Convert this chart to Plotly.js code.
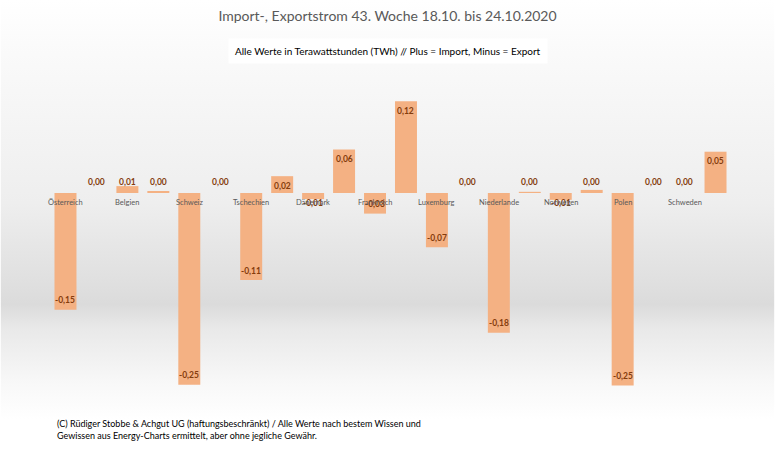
<!DOCTYPE html>
<html>
<head>
<meta charset="utf-8">
<script src="https://cdn.plot.ly/plotly-3.0.1.min.js"></script>
<style>html,body{margin:0;padding:0;background:#fff;}#chart{width:775px;height:451px;}</style>
</head>
<body>
<div id="chart"></div>
<script>
// Country labels (each country owns two adjacent bars; the label sits under the first)
const countries = ['Österreich','Belgien','Schweiz','Tschechien','Dänemark','Frankreich','Luxemburg','Niederlande','Norwegen','Polen','Schweden'];
// Bar values in TWh (22 bars, two per country)
const values = [-0.153, 0, 0.009, 0.0026, -0.251, 0, -0.114, 0.022, -0.008, 0.057, -0.027, 0.120, -0.071, 0, -0.183, 0.0015, -0.009, 0.004, -0.252, 0, 0, 0.054];

const titleText = 'Import-, Exportstrom 43. Woche 18.10. bis 24.10.2020';
const subtitleText = 'Alle Werte in Terawattstunden (TWh) // Plus = Import, Minus = Export';
const footerText = '(C) Rüdiger Stobbe &amp; Achgut UG (haftungsbeschränkt) / Alle Werte nach bestem Wissen und<br>Gewissen aus Energy-Charts ermittelt, aber ohne jegliche Gewähr.';

const W = 775, H = 451;
const margin = {l: 49.5, r: 43.5, t: 90, b: 51};
const yRange = [-0.271, 0.1348];
const plotW = W - margin.l - margin.r, plotH = H - margin.t - margin.b;
const pxPerUnit = plotH / (yRange[1] - yRange[0]);

const xs = values.map((v, i) => i);
const fmt = v => v.toFixed(2).replace('.', ',');

const font = 'Lato, "Open Sans", sans-serif';

const annotations = [];
// value labels
values.forEach((v, i) => {
  const px = Math.abs(v) * pxPerUnit;
  let a = {x: i, xref: 'x', yref: 'y', text: '<b>' + fmt(v) + '</b>', showarrow: false,
           font: {family: font, size: 8.5, color: '#843C0C'}};
  if (v > 0 && px >= 12) { a.y = v; a.yanchor = 'top'; a.yshift = -2.5; }
  else if (v >= 0) { a.y = 0; a.yanchor = 'bottom'; a.yshift = 3.5; }
  else if (px >= 12) { a.y = v; a.yanchor = 'bottom'; a.yshift = 2.5; }
  else { a.y = 0; a.yanchor = 'top'; a.yshift = -3.5; }
  annotations.push(a);
});
// category labels at the zero line
countries.forEach((c, k) => {
  annotations.push({x: 2 * k, xref: 'x', y: 0, yref: 'y', yanchor: 'middle', yshift: -10,
    text: c, showarrow: false, font: {family: font, size: 7.5, color: '#595959'}});
});
// subtitle
annotations.push({xref: 'paper', yref: 'paper', x: (388 - margin.l) / plotW, y: 1 + (margin.t - 51) / plotH,
  xanchor: 'center', yanchor: 'middle', text: subtitleText, showarrow: false,
  bgcolor: '#ffffff', borderpad: 6,
  font: {family: font, size: 10, color: '#000000'}});
// footer
annotations.push({xref: 'paper', yref: 'paper', x: (55 - margin.l) / plotW, y: -(429 - (H - margin.b)) / plotH,
  xanchor: 'left', yanchor: 'middle', align: 'left', text: footerText, showarrow: false,
  font: {family: font, size: 9, color: '#000000'}});

const bg = 'data:image/svg+xml;charset=utf-8,' + encodeURIComponent(
  '<svg xmlns="http://www.w3.org/2000/svg" width="775" height="451" preserveAspectRatio="none">' +
  '<defs><linearGradient id="g" x1="0" y1="0" x2="0" y2="1">' +
  '<stop offset="0" stop-color="#ffffff"/>' +
  '<stop offset="0.12" stop-color="#fafafa"/>' +
  '<stop offset="0.45" stop-color="#eeeeee"/>' +
  '<stop offset="0.62" stop-color="#e0e0e0"/>' +
  '<stop offset="0.675" stop-color="#dbdbdb"/>' +
  '<stop offset="0.73" stop-color="#e9e9e9"/>' +
  '<stop offset="0.85" stop-color="#f8f8f8"/>' +
  '<stop offset="0.93" stop-color="#ffffff"/>' +
  '<stop offset="1" stop-color="#ffffff"/>' +
  '</linearGradient></defs><rect width="775" height="451" fill="url(#g)"/></svg>');

const trace = {
  type: 'bar', x: xs, y: values,
  marker: {color: '#F4B183', line: {width: 0}},
  hoverinfo: 'none'
};

const layout = {
  width: W, height: H,
  margin: margin,
  paper_bgcolor: '#ffffff', plot_bgcolor: 'rgba(0,0,0,0)',
  showlegend: false,
  bargap: 0.29,
  title: {text: titleText, x: 0.5, xanchor: 'center', y: 1 - 16 / H, yanchor: 'middle', yref: 'container',
          font: {family: font, size: 14, color: '#595959'}},
  xaxis: {range: [-0.5, values.length - 0.5], showticklabels: false, showgrid: false, zeroline: false, showline: false, ticks: ''},
  yaxis: {range: yRange, showticklabels: false, showgrid: false, zeroline: false, showline: false, ticks: ''},
  annotations: annotations,
  images: [{source: bg, xref: 'paper', yref: 'paper', x: -margin.l / plotW, y: 1 + margin.t / plotH,
            sizex: W / plotW, sizey: H / plotH, sizing: 'stretch', xanchor: 'left', yanchor: 'top', layer: 'below'}]
};

Plotly.newPlot('chart', [trace], layout, {staticPlot: true, displayModeBar: false});
</script>
</body>
</html>
